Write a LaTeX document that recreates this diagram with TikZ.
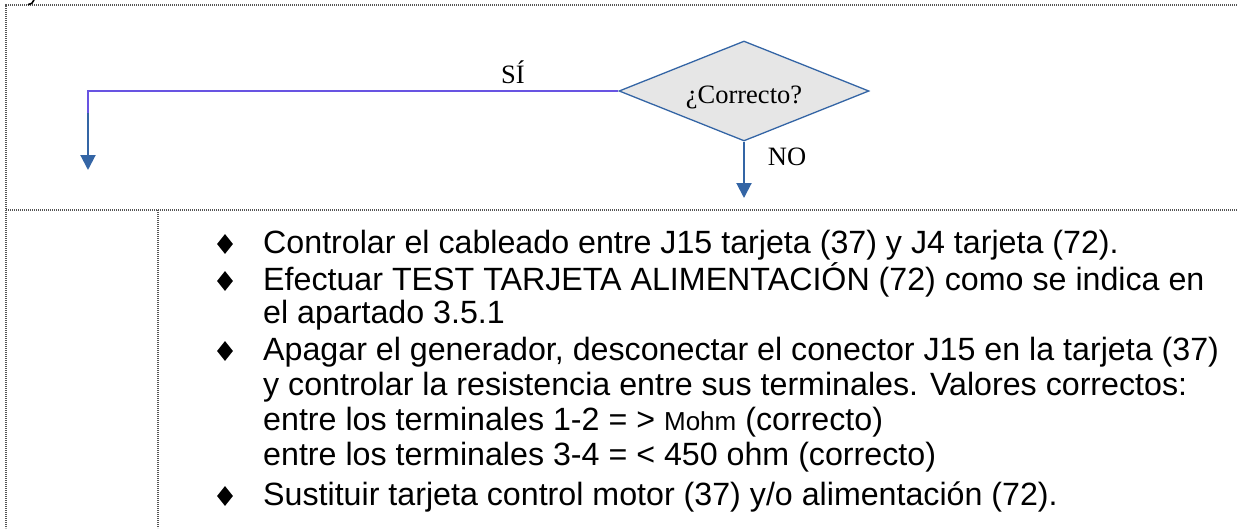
\documentclass[tikz,border=0pt]{standalone}
\usepackage{fontspec}
\setmainfont{Liberation Serif}
\newfontfamily\arialf{Liberation Sans}
\usetikzlibrary{shapes.geometric,arrows.meta}
\definecolor{flowblue}{RGB}{52,101,165}
\definecolor{sipurple}{RGB}{104,84,226}
\definecolor{dgray}{RGB}{230,230,230}
\definecolor{framegray}{RGB}{85,85,85}
\tikzset{
  framebox/.style={draw=framegray, line width=1.3pt, dash pattern=on 1.3pt off 0.7pt},
  decision/.style={shape=diamond, draw=flowblue, line width=1.3pt, fill=dgray, inner sep=0pt, aspect=2.5, minimum width=250pt, minimum height=100pt},
  serlab/.style={font=\fontsize{26.5}{30}\selectfont, inner sep=0pt, anchor=base},
  bodytxt/.style={font=\arialf\fontsize{32.2}{38}\selectfont, inner sep=0pt, anchor=base west},
  bulletmark/.style={shape=diamond, fill=black, inner sep=0pt, aspect=0.8, minimum width=16pt, minimum height=20pt},
  flowarrow/.style={draw=flowblue, line width=2pt, -{Triangle[width=15pt,length=15pt]}},
}
\begin{document}
\begin{tikzpicture}[x=1pt,y=-1pt]
\useasboundingbox (0,0) rectangle (1237,528);
% frame
\draw[framebox] (1237,5) -- (6,5) -- (6,528);
\draw[framebox] (6,210) -- (1237,210);
\draw[framebox] (158,210) -- (158,528);
% tail of a glyph cut off at the top edge
\draw[line width=1.6pt, line cap=round] (34,0) .. controls (33,3) and (31,4.5) .. (28.5,4.5);
% decision
\node[decision] (dec) at (744,91) {};
\node[serlab] (dectxt) at (744,103) {¿Correcto?};
\coordinate (sicorner) at (88,91);
\coordinate (sistart) at (88,113);
\coordinate (sitip) at (88,170);
\coordinate (notip) at (744,198);
\draw[sipurple, line width=1.8pt] (dec.west) -- (sicorner) -- (sistart);
\draw[flowarrow] (sistart) -- (sitip);
\draw[flowarrow] (dec.south) -- (notip);
\node[serlab] (si) at (513,83) {SÍ};
\node[serlab] (no) at (787,165) {NO};
% body text
\node[bulletmark] (b1) at (225,244) {};
\node[bulletmark] (b2) at (225,281) {};
\node[bulletmark] (b3) at (225,351) {};
\node[bulletmark] (b4) at (225,496) {};
\node[bodytxt] (l1) at (263,253) {Controlar el cableado entre J15 tarjeta (37) y J4 tarjeta (72).};
\node[bodytxt] (l2) at (263,290) {Efectuar TEST TARJETA ALIMENTACIÓN (72) como se indica en};
\node[bodytxt] (l3) at (263,323) {el apartado 3.5.1};
\node[bodytxt] (l4) at (263,360) {Apagar el generador, desconectar el conector J15 en la tarjeta (37)};
\node[bodytxt] (l5) at (263,395) {y controlar la resistencia entre sus terminales. Valores correctos:};
\node[bodytxt] (l6) at (263,430) {entre los terminales 1-2 = > {\fontsize{26}{30}\selectfont Mohm} (correcto)};
\node[bodytxt] (l7) at (263,465) {entre los terminales 3-4 = < 450 ohm (correcto)};
\node[bodytxt] (l8) at (263,505) {Sustituir tarjeta control motor (37) y/o alimentación (72).};
\end{tikzpicture}
\end{document}
